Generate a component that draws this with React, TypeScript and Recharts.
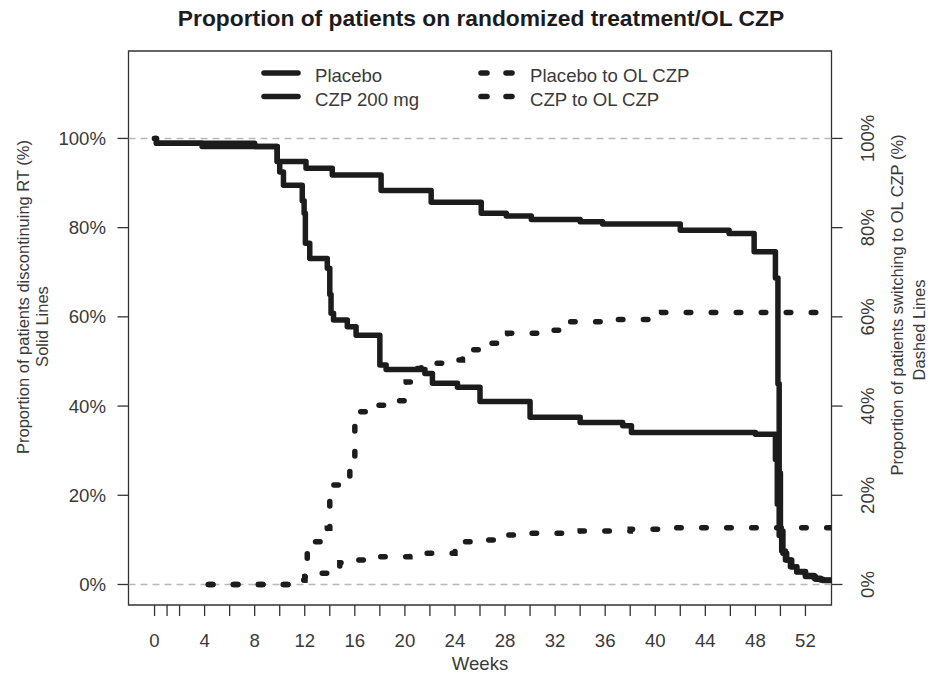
import {
  ComposedChart,
  Line,
  XAxis,
  YAxis,
  ReferenceLine,
  ReferenceArea,
} from 'recharts';

// [week, percent] step points
const placeboDiscontinued: [number, number][] = [
  [0, 100], [0.15, 98.9], [3.8, 98.2], [9.8, 94.8], [10.0, 92.5], [10.3, 89.5],
  [11.8, 86.0], [11.95, 83.2], [12.05, 76.5], [12.4, 73.1], [13.8, 70.9],
  [14.0, 65.0], [14.1, 60.8], [14.3, 59.3], [15.4, 57.8], [16.1, 55.9],
  [18.0, 49.2], [18.5, 48.2], [21.6, 47.3], [22.2, 45.1], [24.2, 44.2],
  [26.0, 41.0], [30.0, 37.5], [34.0, 36.3], [37.4, 35.6], [38.1, 34.1],
  [48.0, 33.7], [49.6, 28.0], [49.75, 18.0], [49.9, 11.0], [50.1, 7.5],
  [50.4, 5.5], [50.8, 4.0], [51.3, 2.8], [52.0, 1.8], [52.8, 1.2],
  [53.4, 0.9], [54.08, 0.9],
];

const czpDiscontinued: [number, number][] = [
  [0, 100], [0.15, 98.9], [8.0, 98.2], [9.8, 94.8], [12.1, 93.3], [14.2, 91.8],
  [18.1, 88.3], [22.1, 85.7], [26.1, 83.2], [28.1, 82.6], [30.1, 81.8],
  [34.0, 81.3], [35.8, 80.8], [42.0, 79.4], [45.9, 78.7], [47.9, 74.6],
  [49.6, 68.7], [49.8, 45.0], [49.9, 25.0], [50.0, 12.0], [50.2, 7.0],
  [50.5, 5.5], [50.9, 4.0], [51.3, 2.9], [52.0, 2.0], [52.7, 1.4],
  [53.2, 1.0], [54.08, 1.0],
];

const placeboToOL: [number, number][] = [
  [4.3, 0], [11.4, 0], [11.7, 1.0], [12.0, 5.5], [12.2, 8.5], [12.8, 9.6],
  [13.4, 10.0], [13.8, 12.6], [14.0, 19.7], [14.2, 22.3], [15.0, 24.2],
  [15.6, 26.8], [16.0, 37.0], [16.3, 38.7], [17.0, 39.5], [17.7, 40.2],
  [18.5, 41.2], [20.0, 41.7], [20.1, 45.4], [20.7, 48.4], [21.3, 49.6],
  [23.6, 50.3], [24.6, 51.8], [25.4, 52.6], [26.4, 54.1], [28.2, 56.3],
  [31.8, 57.0], [32.4, 58.5], [32.9, 58.9], [36.1, 59.4], [40.0, 60.0],
  [40.5, 61.0], [54.08, 61.0],
];

const czpToOL: [number, number][] = [
  [4.3, 0], [11.4, 0], [11.7, 1.0], [12.0, 1.7], [12.5, 2.5], [14.0, 4.0],
  [14.8, 4.9], [16.3, 5.5], [17.0, 6.2], [20.4, 7.0], [24.0, 8.6],
  [24.7, 9.6], [26.5, 10.0], [28.0, 11.1], [29.5, 11.5], [34.0, 12.0],
  [38.0, 12.4], [40.5, 12.7], [54.08, 12.7],
];

const weekTicks = [0, 1, 2, 4, 6, 8, 10, 12, 14, 16, 18, 20, 22, 24, 26, 28, 30,
  32, 34, 36, 38, 40, 42, 44, 46, 48, 50, 52];
const pctTicks = [0, 20, 40, 60, 80, 100];

const FONT = '"Liberation Sans", Arial, sans-serif';
const INK = '#1c1c1c';
const GREY_TEXT = '#3a3a3a';
const DASH = '4.5 20.5';

const toRows = (pts: [number, number][]) => pts.map(([week, pct]) => ({ week, pct }));

function WeekTick({ x, y, payload }: any) {
  if (payload.value % 4 !== 0) return <g />;
  return (
    <text x={x} y={y} textAnchor="middle" fontFamily={FONT} fontSize={18.6} fill={GREY_TEXT}>
      {payload.value}
    </text>
  );
}

function LeftTick({ x, y, payload }: any) {
  return (
    <text x={x} y={y} dy="0.35em" textAnchor="end" fontFamily={FONT} fontSize={18.6} fill={GREY_TEXT}>
      {`${payload.value}%`}
    </text>
  );
}

function RightTick({ x, y, payload }: any) {
  return (
    <text
      x={x}
      y={y}
      transform={`rotate(-90 ${x} ${y})`}
      textAnchor="middle"
      fontFamily={FONT}
      fontSize={18.6}
      fill={GREY_TEXT}
    >
      {`${payload.value}%`}
    </text>
  );
}

function VText({ x, y, children }: { x: number; y: number; children: string }) {
  return (
    <text
      x={x}
      y={y}
      transform={`rotate(-90 ${x} ${y})`}
      textAnchor="middle"
      fontFamily={FONT}
      fontSize={16.5}
      fill={GREY_TEXT}
    >
      {children}
    </text>
  );
}

function Decorations() {
  const legendText = { fontFamily: FONT, fontSize: 18.6, fill: GREY_TEXT };
  return (
    <g>
      <text x={481} y={26} textAnchor="middle" fontFamily={FONT} fontSize={22.8} fontWeight="bold" fill={INK}>
        Proportion of patients on randomized treatment/OL CZP
      </text>
      <text x={480} y={670} textAnchor="middle" {...legendText}>Weeks</text>

      <VText x={29} y={297}>Proportion of patients discontinuing RT (%)</VText>
      <VText x={48} y={326.5}>Solid Lines</VText>
      <VText x={903} y={305}>Proportion of patients switching to OL CZP (%)</VText>
      <VText x={925} y={330}>Dashed Lines</VText>

      {/* legend, two columns */}
      <line x1={264} x2={298} y1={73} y2={73} stroke={INK} strokeWidth={5.5} strokeLinecap="round" />
      <line x1={264} x2={298} y1={96.5} y2={96.5} stroke={INK} strokeWidth={5.5} strokeLinecap="round" />
      <text x={315} y={82} {...legendText}>Placebo</text>
      <text x={315} y={105.5} {...legendText}>CZP 200 mg</text>

      {[73, 96.5].map((ly) => (
        <g key={ly}>
          <line x1={481} x2={487} y1={ly} y2={ly} stroke={INK} strokeWidth={5.5} strokeLinecap="round" />
          <line x1={506} x2={512} y1={ly} y2={ly} stroke={INK} strokeWidth={5.5} strokeLinecap="round" />
        </g>
      ))}
      <text x={530} y={82} {...legendText}>Placebo to OL CZP</text>
      <text x={530} y={105.5} {...legendText}>CZP to OL CZP</text>
    </g>
  );
}

export default function App() {
  return (
    <div style={{ position: 'absolute', left: 0, top: 0, width: 930, height: 673, background: '#fff' }}>
      <ComposedChart width={930} height={673} margin={{ top: 51, right: 0, bottom: 0, left: 0 }}>
        <XAxis
          type="number"
          dataKey="week"
          domain={[-2.08, 54.08]}
          allowDataOverflow
          ticks={weekTicks}
          interval={0}
          height={68}
          axisLine={false}
          tickLine={{ stroke: '#333', strokeWidth: 1.3 }}
          tickSize={11}
          tickMargin={30.5}
          tick={<WeekTick />}
        />
        <YAxis
          yAxisId="left"
          type="number"
          domain={[-4.6, 119.6]}
          allowDataOverflow
          ticks={pctTicks}
          interval={0}
          width={128.5}
          axisLine={false}
          tickLine={{ stroke: '#333', strokeWidth: 1.3 }}
          tickSize={11}
          tickMargin={11.5}
          tick={<LeftTick />}
        />
        <YAxis
          yAxisId="right"
          orientation="right"
          type="number"
          domain={[-4.6, 119.6]}
          allowDataOverflow
          ticks={pctTicks}
          interval={0}
          width={98.5}
          axisLine={false}
          tickLine={{ stroke: '#333', strokeWidth: 1.3 }}
          tickSize={11}
          tickMargin={31.5}
          tick={<RightTick />}
        />

        <ReferenceLine yAxisId="left" y={100} stroke="#b8b8b8" strokeWidth={1.5} strokeDasharray="7 5" />
        <ReferenceLine yAxisId="left" y={0} stroke="#b8b8b8" strokeWidth={1.5} strokeDasharray="7 5" />
        <ReferenceArea
          yAxisId="left"
          x1={-2.08}
          x2={54.08}
          y1={-4.6}
          y2={119.6}
          fill="none"
          fillOpacity={0}
          stroke="#333"
          strokeWidth={1.3}
          ifOverflow="visible"
        />

        <Line
          yAxisId="left"
          data={toRows(placeboDiscontinued)}
          dataKey="pct"
          type="stepAfter"
          stroke={INK}
          strokeWidth={5.5}
          strokeLinejoin="round"
          strokeLinecap="round"
          dot={false}
          activeDot={false}
          isAnimationActive={false}
        />
        <Line
          yAxisId="left"
          data={toRows(czpDiscontinued)}
          dataKey="pct"
          type="stepAfter"
          stroke={INK}
          strokeWidth={5.5}
          strokeLinejoin="round"
          strokeLinecap="round"
          dot={false}
          activeDot={false}
          isAnimationActive={false}
        />
        <Line
          yAxisId="right"
          data={toRows(placeboToOL)}
          dataKey="pct"
          type="stepAfter"
          stroke={INK}
          strokeWidth={5.5}
          strokeDasharray={DASH}
          strokeLinecap="round"
          dot={false}
          activeDot={false}
          isAnimationActive={false}
        />
        <Line
          yAxisId="right"
          data={toRows(czpToOL)}
          dataKey="pct"
          type="stepAfter"
          stroke={INK}
          strokeWidth={5.5}
          strokeDasharray={DASH}
          strokeLinecap="round"
          dot={false}
          activeDot={false}
          isAnimationActive={false}
        />

        <Decorations />
      </ComposedChart>
    </div>
  );
}
